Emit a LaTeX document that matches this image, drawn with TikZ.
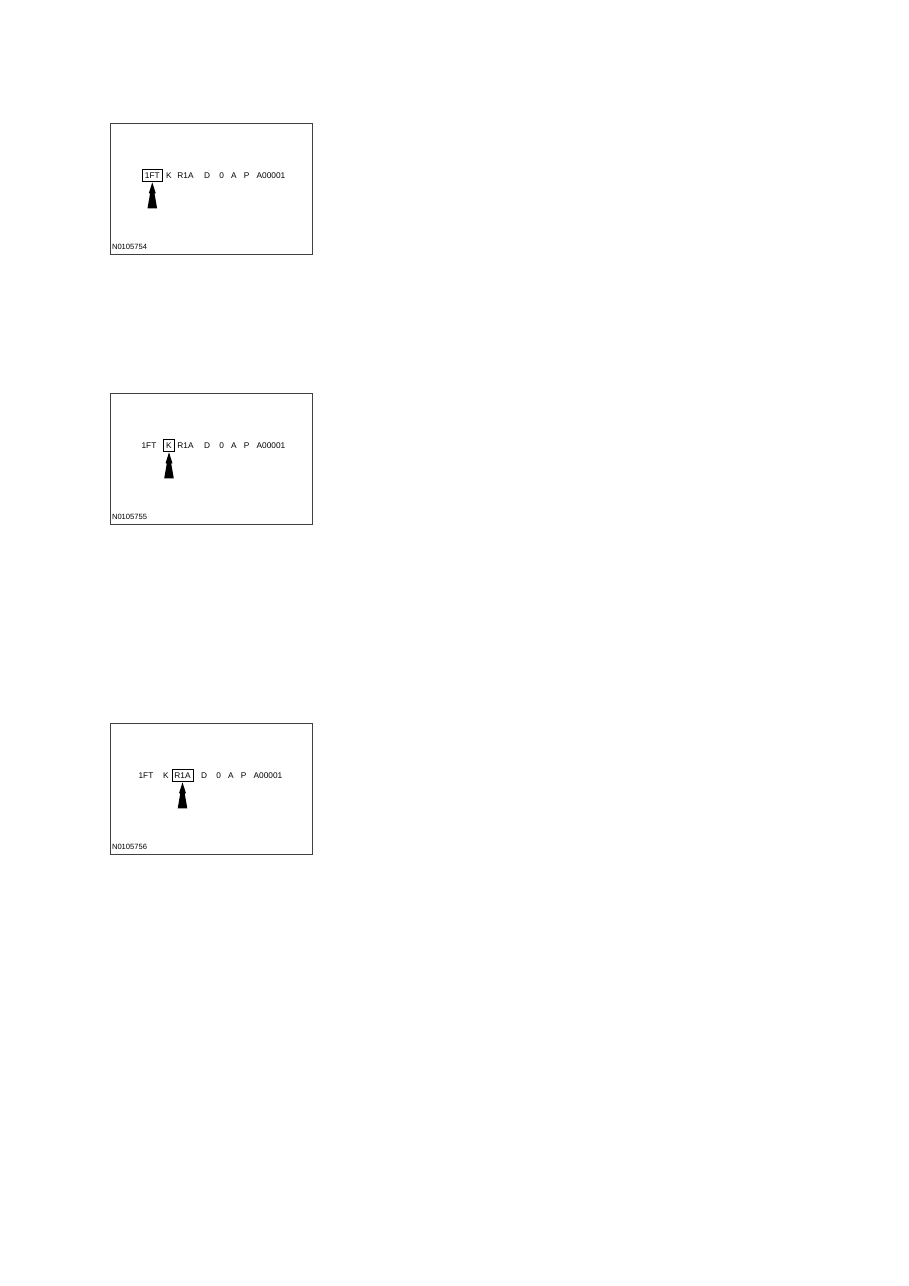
\documentclass[tikz,border=0pt]{standalone}
\usepackage{fontspec}
\setmainfont{Liberation Sans}

\begin{document}
\begin{tikzpicture}[x=1pt,y=-1pt,
    word/.style={inner xsep=2.2pt,inner ysep=3pt,font=\fontsize{8.3}{9}\selectfont},
    pick/.style={draw,line width=0.8pt},
    frame/.style={draw=black!75,line width=0.8pt}]
  \useasboundingbox (0,0) rectangle (909,1286);
  \foreach \dy/\dx/\first/\hl/\num in {0/0/152.3/1/4, 270/0/149/2/5, 600/-3/149/3/6}{
    \begin{scope}[yshift=-\dy pt,xshift=\dx pt]
      \draw [frame] (110.5-\dx,123.5) rectangle (312.5-\dx,254.5);
      \node [anchor=west,font=\fontsize{7.6}{9}\selectfont] (code\num) at (108.5-\dx,246.5) {N010575\num};
      \foreach \w/\x [count=\i] in {1FT/\first,K/169,R1A/185.5,D/207,0/221.7,A/234,P/246.7,A00001/271}
        \node [word] (w\i) at (\x,175.3) {\w};
      \draw [pick] (w\hl.south west) rectangle (w\hl.north east);
      \fill ([yshift=-1pt]w\hl.south) -- ++(-3.5,11) -- ++(1.3,0) -- ++(-2.6,15)
        -- ++(9.6,0) -- ++(-2.6,-15) -- ++(1.3,0) -- cycle;
    \end{scope}
  }
\end{tikzpicture}
\end{document}
